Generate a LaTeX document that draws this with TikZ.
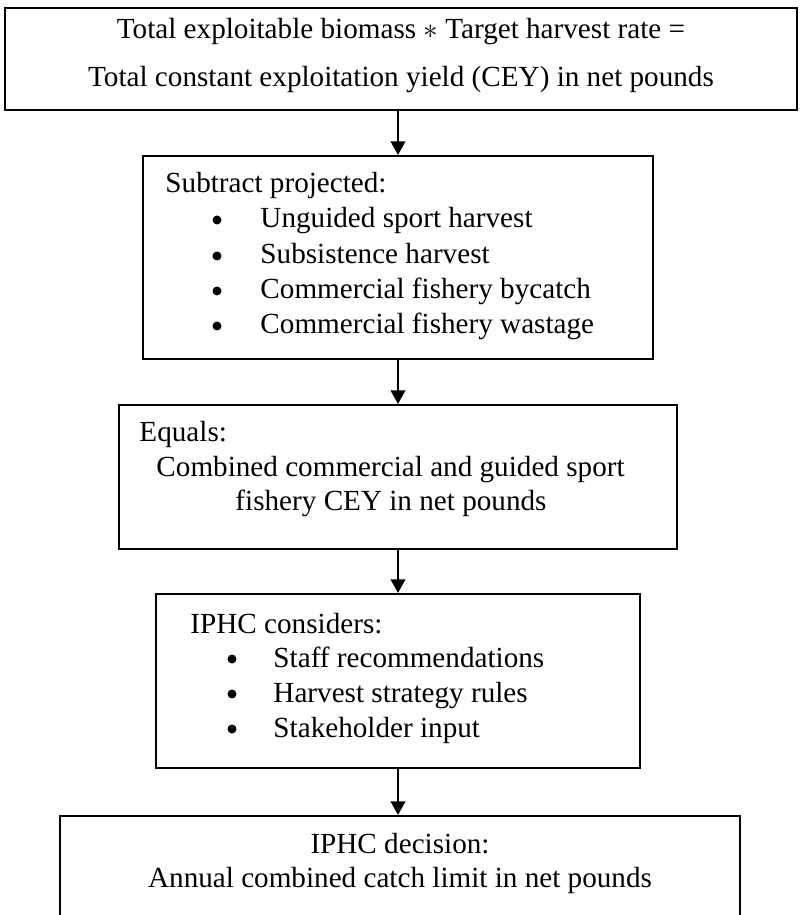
\documentclass[tikz,border=0pt]{standalone}
\usepackage{fontspec}
\setmainfont{Liberation Serif}
\usetikzlibrary{arrows.meta,fit}
\begin{document}
\begin{tikzpicture}[x=0.4115pt,y=-0.4115pt,
  boxsty/.style={draw,line width=0.85pt,inner sep=0pt},
  txt/.style={inner sep=0pt,font=\fontsize{12pt}{14pt}\selectfont},
  dot/.style={circle,fill,inner sep=0pt,minimum size=3.7pt},
  arr/.style={line width=0.85pt,-{Triangle[width=6pt,length=5.6pt]}}]
\clip (0,0) rectangle (800,915);
% boxes
\node[boxsty,fit={(5,8) (797,110)}] (top) {};
\node[boxsty,fit={(143,156) (653,359)}] (sub) {};
\node[boxsty,fit={(119,405) (677,549)}] (eq) {};
\node[boxsty,fit={(156,594) (640,768)}] (iphc) {};
\node[boxsty,fit={(60,816) (740,960)}] (dec) {};
\coordinate (ax) at (398,0);
% arrows
\draw[arr] (top.south -| ax) -- (sub.north -| ax);
\draw[arr] (sub.south -| ax) -- (eq.north -| ax);
\draw[arr] (eq.south -| ax) -- (iphc.north -| ax);
\draw[arr] (iphc.south -| ax) -- (dec.north -| ax);
% top text
\node[txt,anchor=base] (t1) at (401,39) {Total exploitable biomass $\ast$ Target harvest rate =};
\node[txt,anchor=base] (t2) at (401,87) {Total constant exploitation yield (CEY) in net pounds};
% box 2
\node[txt,anchor=base west] (s0) at (165,193) {Subtract projected:};
\node[dot] (b1) at (217,220) {};
\node[txt,anchor=base west] (s1) at (260,228) {Unguided sport harvest};
\node[dot] (b2) at (217,256) {};
\node[txt,anchor=base west] (s2) at (260,264) {Subsistence harvest};
\node[dot] (b3) at (217,291) {};
\node[txt,anchor=base west] (s3) at (260,299) {Commercial fishery bycatch};
\node[dot] (b4) at (217,326) {};
\node[txt,anchor=base west] (s4) at (260,334) {Commercial fishery wastage};
% box 3
\node[txt,anchor=base west] (e0) at (139,442) {Equals:};
\node[txt,anchor=base west] (e1) at (156,477) {Combined commercial and guided sport};
\node[txt,anchor=base west] (e2) at (235,510) {fishery CEY in net pounds};
% box 4
\node[txt,anchor=base west] (c0) at (190,633) {IPHC considers:};
\node[dot] (cb1) at (232,659) {};
\node[txt,anchor=base west] (c1) at (273,667) {Staff recommendations};
\node[dot] (cb2) at (232,694) {};
\node[txt,anchor=base west] (c2) at (273,702) {Harvest strategy rules};
\node[dot] (cb3) at (232,729) {};
\node[txt,anchor=base west] (c3) at (273,737) {Stakeholder input};
% bottom
\node[txt,anchor=base] (d0) at (400,853) {IPHC decision:};
\node[txt,anchor=base] (d1) at (400,887) {Annual combined catch limit in net pounds};
\end{tikzpicture}
\end{document}
